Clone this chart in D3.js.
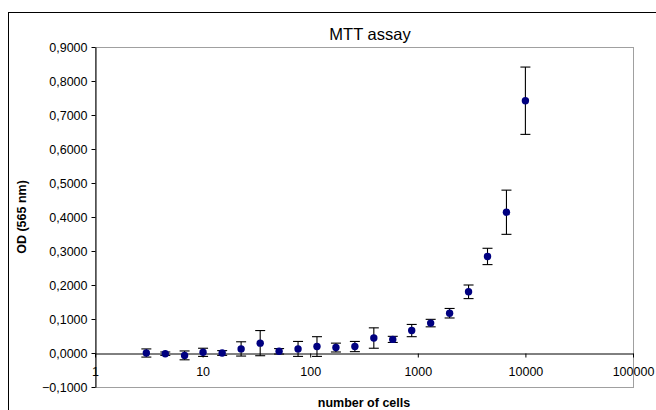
<!DOCTYPE html>
<html>
<head>
<meta charset="utf-8">
<script src="https://cdn.jsdelivr.net/npm/d3@7"></script>
<style>
  body { margin: 0; background: #fff; }
  svg { font-family: "Liberation Sans", Arial, sans-serif; }
</style>
</head>
<body>
<div id="container"></div>
<script>
// MTT assay - OD vs number of cells (1.5x dilution series)
const cells = [3.0, 4.5, 6.8, 10.1, 15.2, 22.8, 34.3, 51.4, 77.1, 115.6, 173.4,
  260.1, 390.2, 585.3, 877.9, 1316.9, 1975.3, 2963.0, 4444.4, 6666.7, 10000];
const od = [0.000, -0.002, -0.007, 0.002, 0.000, 0.012, 0.029, 0.005, 0.012, 0.019, 0.016,
  0.019, 0.044, 0.040, 0.066, 0.088, 0.117, 0.180, 0.284, 0.414, 0.742];
const odErr = [0.012, 0.005, 0.013, 0.012, 0.007, 0.021, 0.037, 0.008, 0.022, 0.029, 0.013,
  0.015, 0.030, 0.009, 0.018, 0.011, 0.014, 0.020, 0.024, 0.065, 0.099];
const xTicks = [1, 10, 100, 1000, 10000, 100000];
const yTicks = [-0.1, 0, 0.1, 0.2, 0.3, 0.4, 0.5, 0.6, 0.7, 0.8, 0.9];

const width = 656;
const height = 410;
const plot = { left: 95, top: 47, right: 633, bottom: 387 };

const svg = d3.select("#container")
  .append("svg")
  .attr("width", width)
  .attr("height", height);

// outer chart border
svg.append("rect")
  .attr("x", 8.5).attr("y", 12.5)
  .attr("width", 700).attr("height", 450)
  .attr("fill", "none").attr("stroke", "#000");

const xScale = d3.scaleLog().domain([1, 100000]).range([plot.left, plot.right]);
const yScale = d3.scaleLinear().domain([-0.1, 0.9]).range([plot.bottom, plot.top]);

// plot area frame
svg.append("rect")
  .attr("x", plot.left + 0.5).attr("y", plot.top + 0.5)
  .attr("width", plot.right - plot.left).attr("height", plot.bottom - plot.top)
  .attr("fill", "none").attr("stroke", "#a0a0a0");

const comma = d3.formatLocale({ decimal: ",", thousands: ".", grouping: [3], currency: ["", ""] });

const yAxis = d3.axisLeft(yScale)
  .tickValues(yTicks)
  .tickSize(4)
  .tickSizeOuter(0)
  .tickPadding(4)
  .tickFormat(comma.format(".4f"));

const gy = svg.append("g")
  .attr("transform", "translate(" + (plot.left + 0.5) + ",0)")
  .call(yAxis);

const xAxis = d3.axisBottom(xScale)
  .tickValues(xTicks)
  .tickSize(4)
  .tickSizeOuter(0)
  .tickPadding(10)
  .tickFormat(d3.format("d"));

const gx = svg.append("g")
  .attr("transform", "translate(0," + (Math.round(yScale(0)) + 0.5) + ")")
  .call(xAxis);

[gx, gy].forEach((g) => {
  g.selectAll("path, line").attr("stroke", "#000");
  g.selectAll("text").attr("font-size", 12.5).attr("fill", "#000")
    .attr("font-family", "Liberation Sans, Arial, sans-serif");
});

// error bars
const bars = svg.append("g").attr("stroke", "#000").attr("stroke-width", 1.1);
cells.forEach((c, i) => {
  const x = xScale(c);
  const y1 = yScale(od[i] + odErr[i]);
  const y2 = yScale(od[i] - odErr[i]);
  bars.append("line").attr("x1", x).attr("x2", x).attr("y1", y1).attr("y2", y2);
  bars.append("line").attr("x1", x - 5).attr("x2", x + 5).attr("y1", y1).attr("y2", y1);
  bars.append("line").attr("x1", x - 5).attr("x2", x + 5).attr("y1", y2).attr("y2", y2);
});

// data points
svg.selectAll(null)
  .data(cells)
  .enter()
  .append("circle")
  .attr("cx", (d) => xScale(d))
  .attr("cy", (d, i) => yScale(od[i]))
  .attr("r", 3.7)
  .style("fill", "#000080");

// titles
svg.append("text")
  .attr("x", 370).attr("y", 40)
  .attr("text-anchor", "middle")
  .attr("font-size", 16.5)
  .text("MTT assay");

svg.append("text")
  .attr("x", 364).attr("y", 407)
  .attr("text-anchor", "middle")
  .attr("font-size", 12.5)
  .attr("font-weight", "bold")
  .text("number of cells");

svg.append("text")
  .attr("transform", "translate(26," + ((plot.top + plot.bottom) / 2) + ") rotate(-90)")
  .attr("text-anchor", "middle")
  .attr("font-size", 12.5)
  .attr("font-weight", "bold")
  .text("OD (565 nm)");
</script>
</body>
</html>
